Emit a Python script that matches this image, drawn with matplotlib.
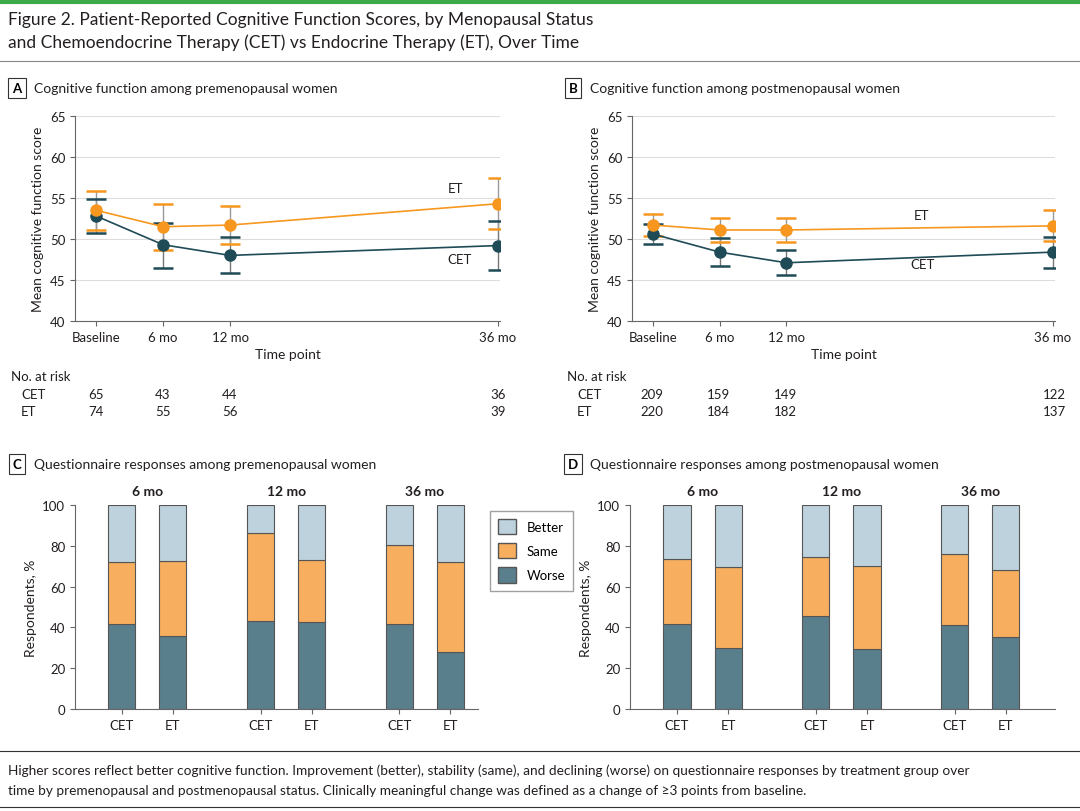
import numpy as np
import matplotlib.pyplot as plt
from matplotlib.patches import Patch

plt.rcParams['font.family'] = ['Lato', 'DejaVu Sans']

W, H = 1080, 812

months = [0, 6, 12, 36]
time_labels = ["Baseline", "6 mo", "12 mo", "36 mo"]

# panel A (premenopausal)
a_et = [53.5, 51.5, 51.7, 54.3]
a_et_lo = [51.1, 48.7, 49.4, 51.2]
a_et_hi = [55.9, 54.3, 54.0, 57.4]
a_cet = [52.8, 49.3, 48.0, 49.2]
a_cet_lo = [50.7, 46.5, 45.8, 46.2]
a_cet_hi = [54.9, 52.0, 50.2, 52.2]
# panel B (postmenopausal)
b_et = [51.7, 51.1, 51.1, 51.6]
b_et_lo = [50.4, 49.6, 49.6, 49.8]
b_et_hi = [53.0, 52.6, 52.6, 53.5]
b_cet = [50.6, 48.4, 47.1, 48.4]
b_cet_lo = [49.4, 46.7, 45.6, 46.5]
b_cet_hi = [51.8, 50.1, 48.6, 50.2]

risk_a_cet = [65, 43, 44, 36]
risk_a_et = [74, 55, 56, 39]
risk_b_cet = [209, 159, 149, 122]
risk_b_et = [220, 184, 182, 137]

bar_groups = ["6 mo", "12 mo", "36 mo"]
# order: CET, ET for each group
c_worse = [41.5, 36, 43, 42.5, 41.5, 28]
c_same_top = [72, 72.5, 86.5, 73, 80.5, 72]
d_worse = [41.5, 30, 45.5, 29.5, 41, 35.5]
d_same_top = [73.5, 69.5, 74.5, 70, 76, 68]

ORANGE = "#F7971F"
TEAL = "#1F4B57"
WORSE = "#5A7F8C"
SAME = "#F7AE5E"
BETTER = "#BDD2DC"
TXT = "#231F20"


def rect(x0, y0, x1, y1):
    return [x0 / W, 1 - y1 / H, (x1 - x0) / W, (y1 - y0) / H]


fig = plt.figure(figsize=(10.8, 8.12), dpi=100)

# header
fig.add_artist(plt.Line2D([0, 1], [1 - 3 / H, 1 - 3 / H], color="#3DAA49", lw=3))
fig.text(8 / W, 1 - 20 / H, "Figure 2. Patient-Reported Cognitive Function Scores, by Menopausal Status",
         fontsize=12.5, va="center", color=TXT)
fig.text(8 / W, 1 - 43 / H, "and Chemoendocrine Therapy (CET) vs Endocrine Therapy (ET), Over Time",
         fontsize=12.5, va="center", color=TXT)
fig.add_artist(plt.Line2D([0, 1], [1 - 62 / H] * 2, color="#888888", lw=0.8))


def panel_label(x, y, letter, title):
    fig.text(x / W, 1 - y / H, letter, fontsize=9.5, weight="bold", ha="center", va="center",
             bbox=dict(boxstyle="square,pad=0.3", fc="white", ec="#333333", lw=0.8))
    fig.text((x + 17) / W, 1 - y / H, title, fontsize=10, va="center", color=TXT)


def line_panel(r, et, etlo, ethi, cet, cetlo, cethi, et_lab, cet_lab):
    ax = fig.add_axes(r)
    for m, lo, hi in [(cet, cetlo, cethi), (et, etlo, ethi)]:
        pass
    ax.errorbar(months, cet, yerr=[np.subtract(cet, cetlo), np.subtract(cethi, cet)],
                fmt="none", ecolor="#777777", elinewidth=1, capsize=0, zorder=2)
    ax.errorbar(months, et, yerr=[np.subtract(et, etlo), np.subtract(ethi, et)],
                fmt="none", ecolor="#999999", elinewidth=1, capsize=0, zorder=2)
    ax.plot(months, cetlo, "_", color=TEAL, ms=14, mew=1.8, zorder=3)
    ax.plot(months, cethi, "_", color=TEAL, ms=14, mew=1.8, zorder=3)
    ax.plot(months, etlo, "_", color=ORANGE, ms=14, mew=1.8, zorder=3)
    ax.plot(months, ethi, "_", color=ORANGE, ms=14, mew=1.8, zorder=3)
    ax.plot(months, cet, "-o", color=TEAL, ms=8, lw=1.2, zorder=4)
    ax.plot(months, et, "-o", color=ORANGE, ms=8, lw=1.2, zorder=5)
    ax.set_xlim(-1.9, 36.2)
    ax.set_ylim(40, 65)
    ax.set_yticks(range(40, 66, 5))
    ax.set_xticks(months)
    ax.set_xticklabels(time_labels)
    ax.grid(axis="y", color="#DDDDDD", lw=0.8)
    ax.set_axisbelow(True)
    for s in ["top", "right"]:
        ax.spines[s].set_visible(False)
    ax.spines["left"].set_color("#666666")
    ax.spines["bottom"].set_color("#666666")
    ax.tick_params(colors="#666666", labelcolor=TXT, labelsize=9.5)
    ax.set_ylabel("Mean cognitive function score", fontsize=10, color=TXT)
    ax.set_xlabel("Time point", fontsize=10, color=TXT)
    ax.text(et_lab[0], et_lab[1], "ET", fontsize=9.5, ha="center", va="center", color=TXT)
    ax.text(cet_lab[0], cet_lab[1], "CET", fontsize=9.5, ha="center", va="center", color=TXT)
    return ax


panel_label(17, 89, "A", "Cognitive function among premenopausal women")
ax_a = line_panel(rect(75, 117, 500, 322), a_et, a_et_lo, a_et_hi, a_cet, a_cet_lo, a_cet_hi,
                  (32.2, 56.2), (32.6, 47.6))
panel_label(573, 89, "B", "Cognitive function among postmenopausal women")
ax_b = line_panel(rect(632, 117, 1055, 322), b_et, b_et_lo, b_et_hi, b_cet, b_cet_lo, b_cet_hi,
                  (24.2, 52.9), (24.3, 46.9))


def risk_table(x_lab, xs, y0, cet, et):
    fig.text(x_lab / W, 1 - y0 / H, "No. at risk", fontsize=9.5, va="center", color=TXT)
    fig.text((x_lab + 10) / W, 1 - (y0 + 18) / H, "CET", fontsize=9.5, va="center", color=TXT)
    fig.text((x_lab + 10) / W, 1 - (y0 + 35) / H, "ET", fontsize=9.5, va="center", color=TXT)
    for x, c, e in zip(xs, cet, et):
        fig.text(x / W, 1 - (y0 + 18) / H, str(c), fontsize=9.5, ha="center", va="center", color=TXT)
        fig.text(x / W, 1 - (y0 + 35) / H, str(e), fontsize=9.5, ha="center", va="center", color=TXT)


risk_table(11, [96, 163, 230, 498], 377, risk_a_cet, risk_a_et)
risk_table(567, [652, 718, 785, 1054], 377, risk_b_cet, risk_b_et)

bar_x = [0, 1, 2.72, 3.72, 5.44, 6.44]
bar_labels = ["CET", "ET"] * 3


def bar_panel(r, worse, same_top, xmax):
    ax = fig.add_axes(r)
    worse = np.array(worse)
    same = np.array(same_top) - worse
    better = 100 - np.array(same_top)
    kw = dict(width=0.53, edgecolor="#555555", linewidth=0.8)
    ax.bar(bar_x, worse, color=WORSE, **kw)
    ax.bar(bar_x, same, bottom=worse, color=SAME, **kw)
    ax.bar(bar_x, better, bottom=np.array(same_top), color=BETTER, **kw)
    ax.set_xlim(-0.92, xmax)
    ax.set_ylim(0, 100)
    ax.set_xticks(bar_x)
    ax.set_xticklabels(bar_labels)
    ax.set_yticks(range(0, 101, 20))
    for s in ["top", "right"]:
        ax.spines[s].set_visible(False)
    ax.spines["left"].set_color("#666666")
    ax.spines["bottom"].set_color("#666666")
    ax.tick_params(colors="#666666", labelcolor=TXT, labelsize=9.5)
    ax.set_ylabel("Respondents, %", fontsize=10, color=TXT)
    for i, g in enumerate(bar_groups):
        ax.text((bar_x[2 * i] + bar_x[2 * i + 1]) / 2, 104, g, fontsize=10, weight="bold",
                ha="center", va="bottom", color=TXT)
    return ax


panel_label(17, 465, "C", "Questionnaire responses among premenopausal women")
ax_c = bar_panel(rect(75, 506, 478, 710), c_worse, c_same_top, 6.98)
panel_label(573, 465, "D", "Questionnaire responses among postmenopausal women")
ax_d = bar_panel(rect(630, 506, 1055, 710), d_worse, d_same_top, 7.4)

handles = [Patch(fc=BETTER, ec="#555555", label="Better"),
           Patch(fc=SAME, ec="#555555", label="Same"),
           Patch(fc=WORSE, ec="#555555", label="Worse")]
fig.legend(handles=handles, loc="upper left", bbox_to_anchor=(483 / W, 1 - 505 / H),
           frameon=True, edgecolor="#888888", fancybox=False, fontsize=9.5,
           handlelength=1.4, handleheight=1.4, borderpad=0.6, labelspacing=0.7)

fig.add_artist(plt.Line2D([0, 1], [1 - 752 / H] * 2, color="#333333", lw=0.8))
fig.text(8 / W, 1 - 771 / H,
         "Higher scores reflect better cognitive function. Improvement (better), stability (same), and declining (worse) on questionnaire responses by treatment group over",
         fontsize=9.8, va="center", color=TXT)
fig.text(8 / W, 1 - 791 / H,
         "time by premenopausal and postmenopausal status. Clinically meaningful change was defined as a change of \u22653 points from baseline.",
         fontsize=9.8, va="center", color=TXT)
fig.add_artist(plt.Line2D([0, 1], [1 - 808 / H] * 2, color="#333333", lw=0.8))

fig.savefig("out.png", dpi=100)
